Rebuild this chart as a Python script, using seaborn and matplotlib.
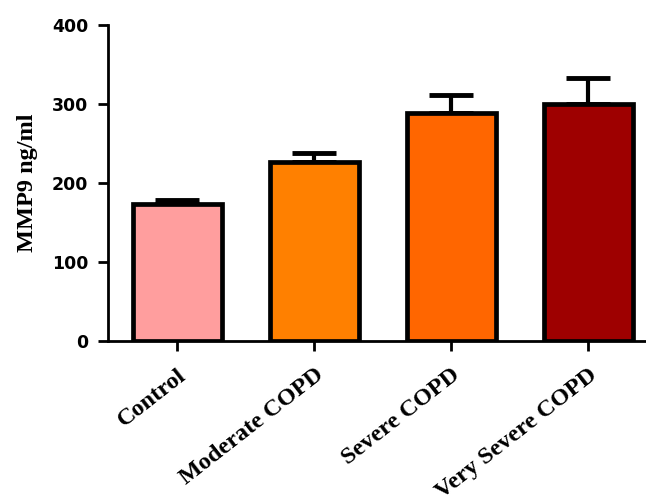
import pandas as pd
import matplotlib
matplotlib.use("Agg")
import matplotlib.pyplot as plt
import seaborn as sns

# values
groups = ["Control", "Moderate COPD", "Severe COPD", "Very Severe COPD"]
means = [173, 226, 289, 300]
errors = [5, 12, 22, 33]
colors = ["#FF9E9E", "#FF8000", "#FF6600", "#9E0000"]

df = pd.DataFrame({"Group": groups, "MMP9": means})

sns.set_style("ticks")
plt.rcParams["text.color"] = "black"
plt.rcParams["axes.labelcolor"] = "black"
plt.rcParams["xtick.color"] = "black"
plt.rcParams["ytick.color"] = "black"

fig = plt.figure(figsize=(6.46, 4.99), dpi=100)
ax = fig.add_axes([0.167, 0.3166, 0.833, 0.6334])

sns.barplot(data=df, x="Group", y="MMP9", hue="Group", palette=colors,
            order=groups, errorbar=None, width=0.65, edgecolor="black",
            linewidth=3.4, saturation=1, legend=False, ax=ax, zorder=3)

# upward-only error bars, Prism style
ax.errorbar(range(len(groups)), means, yerr=[[0] * len(groups), errors],
            fmt="none", ecolor="black", elinewidth=3, capsize=16, capthick=3.5,
            zorder=2)

ax.set_ylim(0, 400)
ax.set_xlim(-0.505, 3.42)
ax.set_yticks([0, 100, 200, 300, 400])
ax.set_xlabel("")
ax.set_ylabel("MMP9 ng/ml", family="Liberation Serif", fontweight="bold",
              fontsize=17.5, labelpad=10)

for lab in ax.get_yticklabels():
    lab.set_family("DejaVu Sans")
    lab.set_fontweight("bold")
    lab.set_fontsize(12.5)

ax.set_xticks(range(len(groups)))
ax.set_xticklabels(groups, rotation=38, ha="right", rotation_mode="anchor",
                   family="Liberation Serif", fontweight="bold", fontsize=17.5)

ax.tick_params(axis="both", direction="out", length=7, width=2, pad=7)
ax.tick_params(axis="x", pad=10)

sns.despine(ax=ax, top=True, right=True)
for side in ["left", "bottom"]:
    ax.spines[side].set_linewidth(2)
    ax.spines[side].set_color("black")

fig.savefig("out.png", dpi=100)
